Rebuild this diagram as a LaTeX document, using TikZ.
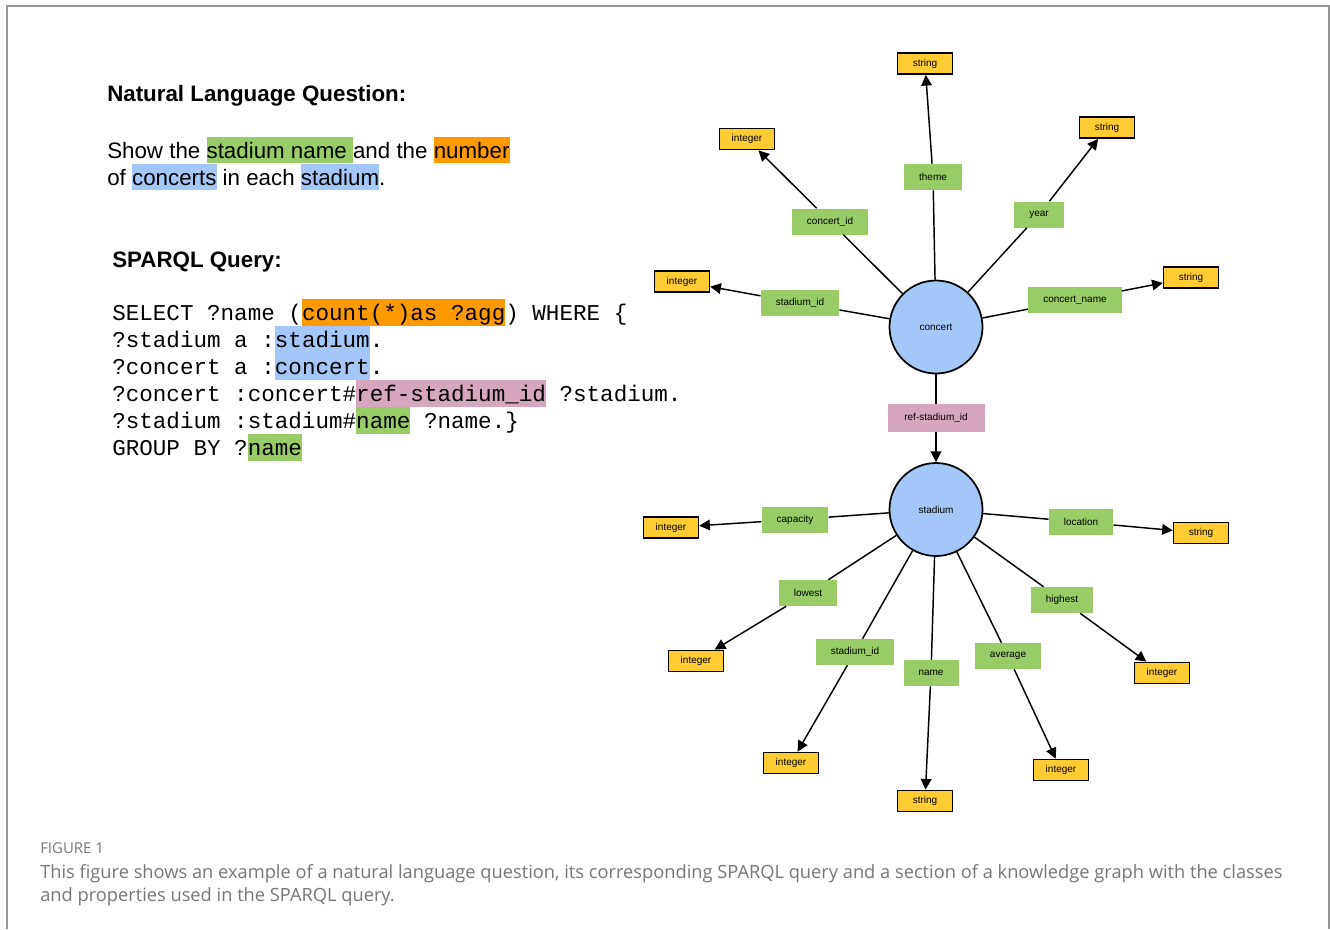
\documentclass[tikz,border=0pt]{standalone}
\usepackage{fontspec}
\setmainfont{Liberation Sans}
\setmonofont{Liberation Mono}
\newfontfamily\capfont{Open Sans}
\usetikzlibrary{arrows.meta}

\definecolor{hlgreen}{RGB}{153,204,102}
\definecolor{hlorange}{RGB}{255,153,0}
\definecolor{hlblue}{RGB}{164,199,250}
\definecolor{hlpink}{RGB}{213,166,189}
\definecolor{tyellow}{RGB}{255,204,51}
\definecolor{framegray}{RGB}{150,150,150}
\definecolor{capgray}{RGB}{118,118,118}

% highlighted words, prose and query
\newcommand{\hlt}[2]{{\setlength{\fboxsep}{0pt}\colorbox{#1}{\rule[-4pt]{0pt}{19.5pt}#2}}}
\newcommand{\hlm}[2]{{\setlength{\fboxsep}{0pt}\colorbox{#1}{\rule[-4.5pt]{0pt}{20.25pt}#2}}}

\tikzset{pxgrid/.style={x=0.75pt,y=-0.75pt}}
\tikzset{txt/.style={anchor=base west,inner sep=0pt,font=\fontsize{16.75}{20.25}\selectfont},
         head/.style={txt,font=\bfseries\fontsize{16.75}{20.25}\selectfont},
         query/.style={txt,font=\ttfamily\fontsize{16.94}{20.25}\selectfont},
         small/.style={font=\fontsize{7.5}{9}\selectfont}}
\tikzset{cls/.style={circle,draw,line width=1.3pt,fill=hlblue,minimum size=69.75pt,inner sep=0pt,small},
         prop/.style={fill=hlgreen,minimum height=19.5pt,inner xsep=11.25pt,inner ysep=0pt,small},
         refbox/.style={fill=hlpink,minimum width=72.75pt,minimum height=21pt,inner sep=0pt,small},
         dtype/.style={draw,line width=1.1pt,fill=tyellow,minimum width=41.25pt,minimum height=16pt,inner sep=0pt,small},
         link/.style={line width=1.1pt},
         tolit/.style={link,-{Triangle[length=8pt,width=8pt]}}}

\begin{document}
\begin{tikzpicture}[pxgrid]
    \useasboundingbox (0,0) rectangle (1330,929);
    \draw[framegray,line width=1.5pt] (7,929) -- (7,6) -- (1329,6) -- (1329,929);

    % question
    \node[head] (nlqhead) at (107,101) {Natural Language Question:};
    \node[txt] (nlq1) at (107,158) {Show the \hlt{hlgreen}{stadium name\ }and the \hlt{hlorange}{number}};
    \node[txt] (nlq2) at (107,185) {of \hlt{hlblue}{concerts} in each \hlt{hlblue}{stadium}.};

    % query
    \node[head] (sparqlhead) at (112,267) {SPARQL Query:};
    \node[query] (q1) at (112,320) {SELECT ?name (\hlm{hlorange}{count(*)as ?agg}) WHERE \{};
    \node[query] (q2) at (112,347) {?stadium a :\hlm{hlblue}{stadium}.};
    \node[query] (q3) at (112,374) {?concert a :\hlm{hlblue}{concert}.};
    \node[query] (q4) at (112,401) {?concert :concert\#\hlm{hlpink}{ref-stadium\_id} ?stadium.};
    \node[query] (q5) at (112,428) {?stadium :stadium\#\hlm{hlgreen}{name} ?name.\}};
    \node[query] (q6) at (112,455) {GROUP BY ?\hlm{hlgreen}{name}};

    % knowledge graph
    \node[cls] (concert) at (936,327) {concert};
    \node[cls] (stadium) at (936,509.5) {stadium};
    \node[refbox] (refid) at (936,418) {ref-stadium\_id};
    \draw[link] (concert) -- (refid);
    \draw[tolit] (refid) -- (stadium);

    \foreach \id/\lbl/\lx/\ly/\typ/\tx/\ty in {
        theme/theme/933/177/string/925/63.5,
        cid/concert\_id/830/221.5/integer/747/139,
        year/year/1039/214.5/string/1107/127.5,
        sid/stadium\_id/800/303/integer/682/281.5,
        cname/concert\_name/1075/300/string/1191/277.5} {
      \node[prop] (c-\id) at (\lx,\ly) {\lbl};
      \node[dtype] (c-\id-t) at (\tx,\ty) {\typ};
      \draw[link] (concert) -- (c-\id);
      \draw[tolit] (c-\id) -- (c-\id-t);
    }

    \foreach \id/\lbl/\lx/\ly/\typ/\tx/\ty in {
        cap/capacity/795/519.5/integer/671/527.5,
        loc/location/1081/522/string/1201/533,
        low/lowest/808/593/integer/696/661,
        sid/stadium\_id/855/652/integer/791/763,
        name/name/931/673/string/925/801,
        avg/average/1008/656/integer/1061/770,
        high/highest/1062/600/integer/1162/673} {
      \node[prop] (s-\id) at (\lx,\ly) {\lbl};
      \node[dtype] (s-\id-t) at (\tx,\ty) {\typ};
      \draw[link] (stadium) -- (s-\id);
      \draw[tolit] (s-\id) -- (s-\id-t);
    }

    % caption
    \node[anchor=base west,inner sep=0pt,text=capgray,font=\capfont\fontsize{11.2}{12}\selectfont] (figno) at (40,853) {FIGURE 1};
    \node[anchor=base west,inner sep=0pt,text=capgray,font=\capfont\fontsize{13.7}{17.25}\selectfont] (cap1) at (40,878) {This figure shows an example of a natural language question, its corresponding SPARQL query and a section of a knowledge graph with the classes};
    \node[anchor=base west,inner sep=0pt,text=capgray,font=\capfont\fontsize{13.7}{17.25}\selectfont] (cap2) at (40,901) {and properties used in the SPARQL query.};
\end{tikzpicture}
\end{document}
